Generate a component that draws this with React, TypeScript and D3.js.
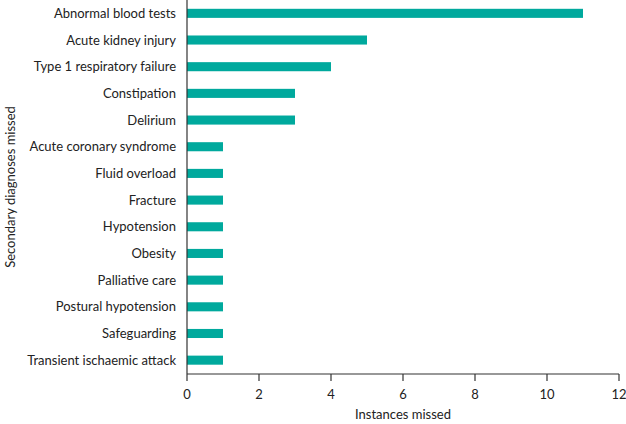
import React from "react";
import * as d3 from "d3";

const categories = [
  "Abnormal blood tests",
  "Acute kidney injury",
  "Type 1 respiratory failure",
  "Constipation",
  "Delirium",
  "Acute coronary syndrome",
  "Fluid overload",
  "Fracture",
  "Hypotension",
  "Obesity",
  "Palliative care",
  "Postural hypotension",
  "Safeguarding",
  "Transient ischaemic attack",
];
const values = [11, 5, 4, 3, 3, 1, 1, 1, 1, 1, 1, 1, 1, 1];
const xTicks = [0, 2, 4, 6, 8, 10, 12];

const W = 626;
const H = 424;
const left = 187;
const right = 619;
const top = 0;
const bottom = 374;
const font = "Lato, 'Open Sans', sans-serif";
const color = "#00A99D";

export default function App() {
  const x = d3.scaleLinear().domain([0, 12]).range([left, right]);
  const y = d3
    .scaleBand<string>()
    .domain(categories)
    .range([top, bottom - 0.5])
    .paddingInner(0.66)
    .paddingOuter(0.33);
  return (
    <svg
      width={W}
      height={H}
      style={{ position: "absolute", left: 0, top: 0 }}
      fontFamily={font}
    >
      <rect width={W} height={H} fill="#fff" />
      {categories.map((c, i) => (
        <g key={c}>
          <rect
            x={x(0)}
            y={y(c)!}
            width={x(values[i]) - x(0)}
            height={y.bandwidth()}
            fill={color}
          />
          <text
            x={left - 11}
            y={y(c)! + y.bandwidth() / 2}
            dy="0.35em"
            textAnchor="end"
            fontSize={13}
            fill="#222"
          >
            {c}
          </text>
        </g>
      ))}
      <line x1={left} x2={left} y1={top} y2={bottom} stroke="#333" strokeWidth={1.2} />
      <line x1={left} x2={right} y1={bottom} y2={bottom} stroke="#333" strokeWidth={1.2} />
      {xTicks.map((t) => (
        <g key={t}>
          <line x1={x(t)} x2={x(t)} y1={bottom} y2={bottom + 7} stroke="#333" strokeWidth={1.2} />
          <text x={x(t)} y={bottom + 20} dy="0.35em" textAnchor="middle" fontSize={13} fill="#222">
            {t}
          </text>
        </g>
      ))}
      <text x={(left + right) / 2} y={414} dy="0.35em" textAnchor="middle" fontSize={13} fill="#222">
        Instances missed
      </text>
      <text
        transform={`translate(10,${(top + bottom) / 2}) rotate(-90)`}
        dy="0.35em"
        textAnchor="middle"
        fontSize={13}
        fill="#222"
      >
        Secondary diagnoses missed
      </text>
    </svg>
  );
}
